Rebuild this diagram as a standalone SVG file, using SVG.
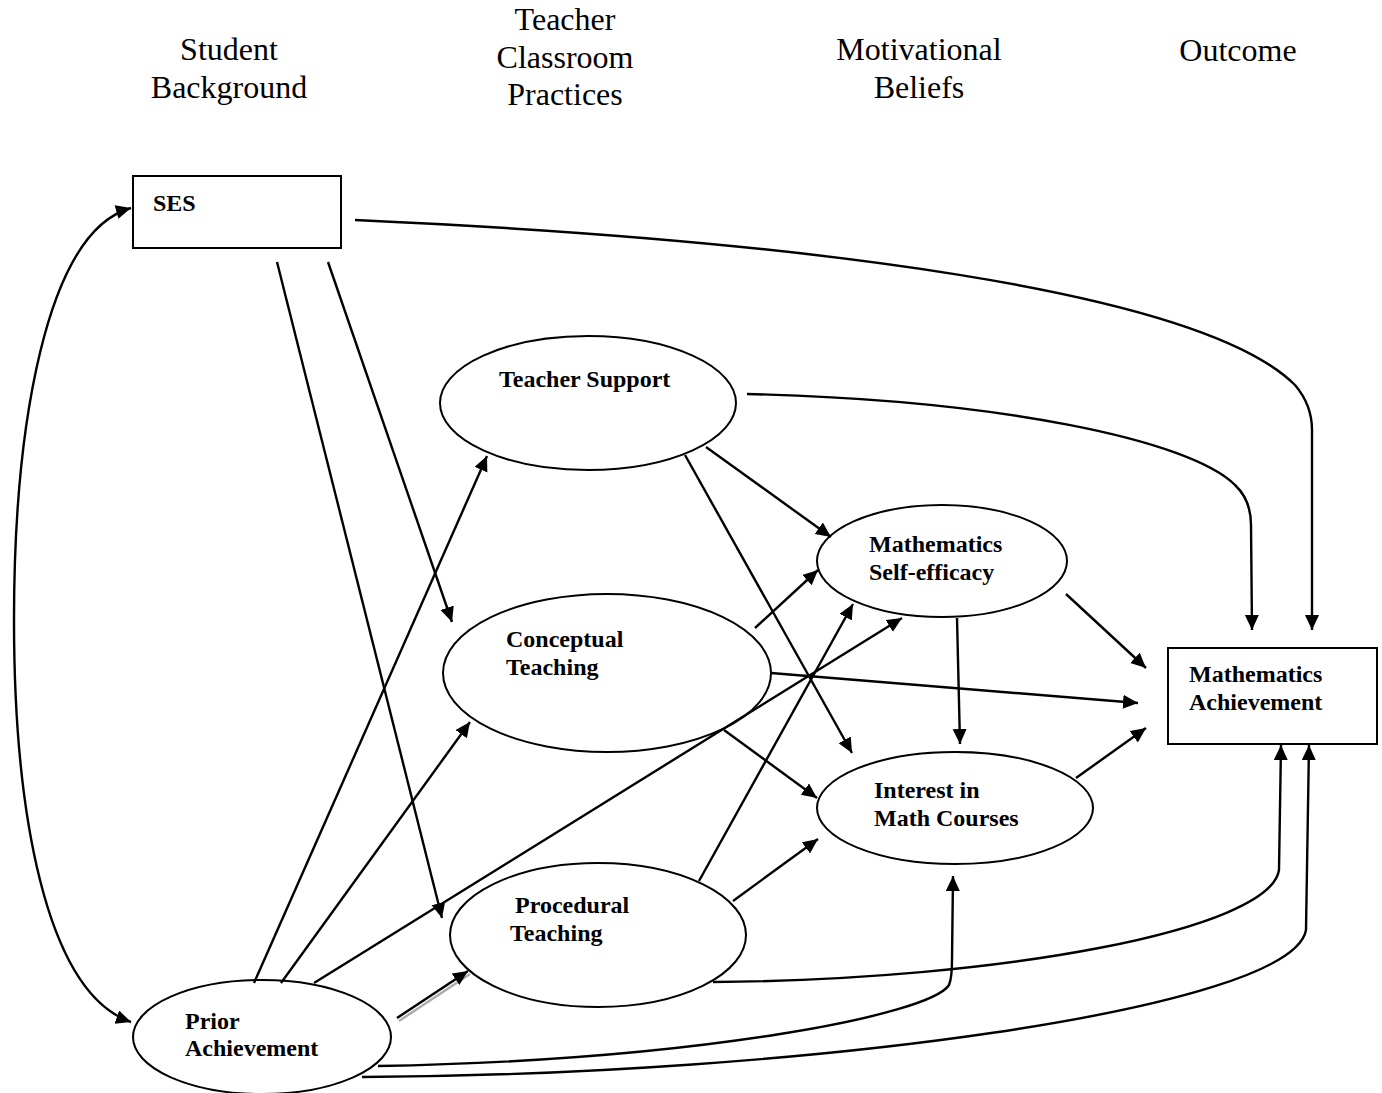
<svg xmlns="http://www.w3.org/2000/svg" width="1382" height="1093" viewBox="0 0 1382 1093">
<style>
.hdr{font-family:"Liberation Serif","Times New Roman",serif;font-size:32px;fill:#000;text-anchor:middle}
.lbl{font-family:"Liberation Serif","Times New Roman",serif;font-size:24px;font-weight:bold;fill:#000}
.shape{fill:#fff;stroke:#000;stroke-width:2}
.c{fill:none;stroke:#000;stroke-width:2.4}
</style>
<defs>
<marker id="ah" markerUnits="userSpaceOnUse" markerWidth="16" markerHeight="16" refX="15" refY="7" orient="auto">
<path d="M0,0 L15,7 L0,14 z" fill="#000"/>
</marker>
<marker id="as" markerUnits="userSpaceOnUse" markerWidth="16" markerHeight="16" refX="0" refY="7" orient="auto">
<path d="M15,0 L0,7 L15,14 z" fill="#000"/>
</marker>
</defs>
<rect width="1382" height="1093" fill="#fff"/>
<g id="headers">
<text class="hdr" x="229" y="60">Student</text>
<text class="hdr" x="229" y="98">Background</text>
<text class="hdr" x="565" y="30">Teacher</text>
<text class="hdr" x="565" y="68">Classroom</text>
<text class="hdr" x="565" y="105">Practices</text>
<text class="hdr" x="919" y="60">Motivational</text>
<text class="hdr" x="919" y="98">Beliefs</text>
<text class="hdr" x="1238" y="61">Outcome</text>
</g>
<g id="ses">
<rect class="shape" x="133" y="176" width="208" height="72"/>
<text class="lbl" x="153" y="211">SES</text>
</g>
<g id="teacher-support">
<ellipse class="shape" cx="588" cy="403" rx="148" ry="67"/>
<text class="lbl" x="499" y="387">Teacher Support</text>
</g>
<g id="conceptual-teaching">
<ellipse class="shape" cx="607" cy="673" rx="164" ry="79"/>
<text class="lbl" x="506" y="647">Conceptual</text>
<text class="lbl" x="506" y="675">Teaching</text>
</g>
<g id="procedural-teaching">
<ellipse class="shape" cx="598" cy="935" rx="148" ry="72"/>
<text class="lbl" x="515" y="913">Procedural</text>
<text class="lbl" x="510" y="941">Teaching</text>
</g>
<g id="self-efficacy">
<ellipse class="shape" cx="942" cy="561" rx="125" ry="56"/>
<text class="lbl" x="869" y="552">Mathematics</text>
<text class="lbl" x="869" y="580">Self-efficacy</text>
</g>
<g id="interest">
<ellipse class="shape" cx="955" cy="808" rx="138" ry="56"/>
<text class="lbl" x="874" y="798">Interest in</text>
<text class="lbl" x="874" y="826">Math Courses</text>
</g>
<g id="math-achievement">
<rect class="shape" x="1168" y="648" width="209" height="96"/>
<text class="lbl" x="1189" y="682">Mathematics</text>
<text class="lbl" x="1189" y="710">Achievement</text>
</g>
<g id="prior-achievement">
<ellipse class="shape" cx="262" cy="1037" rx="129" ry="57"/>
<text class="lbl" x="185" y="1029">Prior</text>
<text class="lbl" x="185" y="1056">Achievement</text>
</g>
<g id="connectors">
<path class="c" d="M131,208 C45,232 14,430 14,620 C14,810 45,992 131,1022" marker-start="url(#as)" marker-end="url(#ah)"/>
<path class="c" d="M355,220 C800,240 1200,290 1295,385 Q1312,405 1312,430 L1312,630" marker-end="url(#ah)"/>
<path class="c" d="M747,394 C1000,400 1190,440 1235,485 Q1251,500 1251,525 L1252,630" marker-end="url(#ah)"/>
<path class="c" d="M328,262 L452,622" marker-end="url(#ah)"/>
<path class="c" d="M277,262 L442,918" marker-end="url(#ah)"/>
<path class="c" d="M254,983 L487,456" marker-end="url(#ah)"/>
<path class="c" d="M281,983 L470,722" marker-end="url(#ah)"/>
<path class="c" d="M314,983 L902,618" marker-end="url(#ah)"/>
<path d="M399,1021 L470,974" fill="none" stroke="#aaa" stroke-width="2.4"/>
<path class="c" d="M397,1018 L468,971" marker-end="url(#ah)"/>
<path class="c" d="M706,447 L831,537" marker-end="url(#ah)"/>
<path class="c" d="M685,455 L852,753" marker-end="url(#ah)"/>
<path class="c" d="M755,628 L818,570" marker-end="url(#ah)"/>
<path class="c" d="M771,673 L1138,703" marker-end="url(#ah)"/>
<path class="c" d="M724,730 L817,798" marker-end="url(#ah)"/>
<path class="c" d="M699,881 L853,604" marker-end="url(#ah)"/>
<path class="c" d="M733,901 L818,839" marker-end="url(#ah)"/>
<path class="c" d="M713,982 C1000,980 1270,930 1279,870 L1281,745" marker-end="url(#ah)"/>
<path class="c" d="M378,1066 C700,1060 930,1015 949,985 Q952,978 952,960 L953,876" marker-end="url(#ah)"/>
<path class="c" d="M362,1077 C800,1075 1292,1010 1306,930 L1309,745" marker-end="url(#ah)"/>
<path class="c" d="M957,618 L960,744" marker-end="url(#ah)"/>
<path class="c" d="M1066,594 L1146,668" marker-end="url(#ah)"/>
<path class="c" d="M1076,778 L1146,728" marker-end="url(#ah)"/>
</g>
</svg>
